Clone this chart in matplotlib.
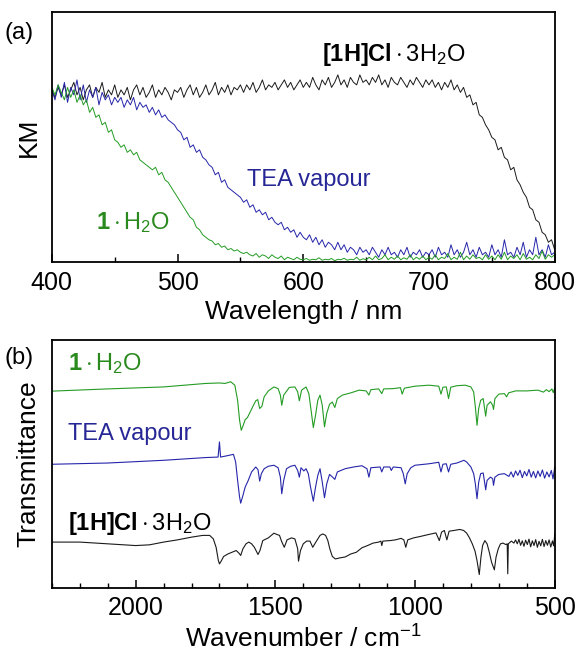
import matplotlib
matplotlib.use("Agg")
import matplotlib.pyplot as plt
import numpy as np
from matplotlib.ticker import MultipleLocator

plt.rcParams['font.family'] = ['Liberation Sans', 'DejaVu Sans']
plt.rcParams['mathtext.fontset'] = 'custom'
plt.rcParams['mathtext.rm'] = 'Liberation Sans'
plt.rcParams['mathtext.bf'] = 'Liberation Sans:bold'
plt.rcParams['mathtext.it'] = 'Liberation Sans:italic'

# (a) diffuse reflectance (KM), every 2.5 nm
wavelength = np.arange(400, 800.1, 2.5)

km_hcl = [0.69, 0.66, 0.70, 0.67, 0.71, 0.66, 0.69, 0.72, 0.67, 0.70, 0.65, 0.69, 0.71, 0.66, 0.70, 0.68, 0.72, 0.66, 0.69, 0.67, 0.71,
          0.66, 0.69, 0.67, 0.70, 0.65, 0.69, 0.71, 0.67, 0.70, 0.66, 0.68, 0.71, 0.66, 0.69, 0.67, 0.70, 0.68, 0.65, 0.69, 0.68,
          0.70, 0.66, 0.69, 0.71, 0.67, 0.70, 0.66, 0.68, 0.71, 0.67, 0.69, 0.72, 0.67, 0.70, 0.68, 0.71, 0.67, 0.70, 0.69, 0.71,
          0.68, 0.71, 0.69, 0.72, 0.68, 0.70, 0.73, 0.69, 0.71, 0.70, 0.72, 0.69, 0.71, 0.73, 0.70, 0.72, 0.69, 0.71, 0.73, 0.70,
          0.72, 0.70, 0.74, 0.71, 0.69, 0.73, 0.71, 0.74, 0.70, 0.72, 0.75, 0.71, 0.73, 0.70, 0.74, 0.72, 0.71, 0.75, 0.72, 0.73,
          0.71, 0.74, 0.72, 0.75, 0.71, 0.73, 0.70, 0.74, 0.72, 0.71, 0.74, 0.72, 0.70, 0.73, 0.71, 0.74, 0.72, 0.70, 0.73, 0.71,
          0.73, 0.70, 0.72, 0.69, 0.72, 0.70, 0.73, 0.69, 0.71, 0.68, 0.70, 0.66, 0.67, 0.63, 0.64, 0.59, 0.58, 0.55, 0.53, 0.50,
          0.49, 0.45, 0.46, 0.42, 0.41, 0.37, 0.38, 0.33, 0.31, 0.28, 0.26, 0.22, 0.21, 0.17, 0.16, 0.12, 0.11, 0.08, 0.09, 0.05]

km_tea = [0.69, 0.65, 0.71, 0.66, 0.72, 0.64, 0.70, 0.67, 0.73, 0.65, 0.71, 0.64, 0.69, 0.66, 0.70, 0.63, 0.68, 0.65, 0.67, 0.63, 0.66,
          0.64, 0.66, 0.62, 0.65, 0.63, 0.66, 0.61, 0.64, 0.62, 0.63, 0.60, 0.62, 0.59, 0.61, 0.58, 0.59, 0.57, 0.56, 0.55, 0.53,
          0.52, 0.49, 0.50, 0.46, 0.47, 0.44, 0.45, 0.42, 0.41, 0.39, 0.38, 0.35, 0.36, 0.32, 0.33, 0.30, 0.29, 0.28, 0.27, 0.26,
          0.24, 0.25, 0.22, 0.23, 0.20, 0.21, 0.19, 0.20, 0.17, 0.18, 0.16, 0.15, 0.16, 0.13, 0.14, 0.12, 0.13, 0.10, 0.12, 0.10,
          0.09, 0.11, 0.08, 0.10, 0.07, 0.09, 0.06, 0.08, 0.07, 0.05, 0.08, 0.05, 0.07, 0.04, 0.06, 0.05, 0.03, 0.06, 0.04, 0.05,
          0.03, 0.06, 0.04, 0.02, 0.05, 0.03, 0.06, 0.03, 0.04, 0.02, 0.05, 0.03, 0.06, 0.02, 0.04, 0.03, 0.05, 0.02, 0.04, 0.03,
          0.05, 0.02, 0.06, 0.03, 0.04, 0.02, 0.07, 0.03, 0.05, 0.02, 0.04, 0.08, 0.03, 0.05, 0.02, 0.06, 0.03, 0.04, 0.02, 0.07,
          0.03, 0.05, 0.02, 0.09, 0.03, 0.04, 0.02, 0.06, 0.03, 0.08, 0.02, 0.05, 0.03, 0.10, 0.03, 0.05, 0.02, 0.07, 0.03, 0.04]

km_h2o = [0.70, 0.67, 0.71, 0.68, 0.65, 0.70, 0.66, 0.69, 0.64, 0.67, 0.63, 0.65, 0.60, 0.62, 0.58, 0.59, 0.55, 0.56, 0.52, 0.53, 0.49,
          0.48, 0.46, 0.47, 0.44, 0.45, 0.43, 0.44, 0.41, 0.40, 0.39, 0.38, 0.37, 0.38, 0.35, 0.36, 0.33, 0.32, 0.30, 0.28, 0.26,
          0.24, 0.22, 0.20, 0.18, 0.17, 0.14, 0.13, 0.11, 0.10, 0.09, 0.085, 0.07, 0.075, 0.06, 0.065, 0.05, 0.055, 0.045, 0.05, 0.04,
          0.035, 0.04, 0.03, 0.025, 0.035, 0.02, 0.03, 0.025, 0.015, 0.03, 0.02, 0.015, 0.025, 0.01, 0.02, 0.015, 0.01, 0.02, 0.012, 0.01,
          0.015, 0.008, 0.012, 0.01, 0.018, 0.008, 0.012, 0.01, 0.015, 0.006, 0.012, 0.01, 0.016, 0.008, 0.012, 0.01, 0.02, 0.008, 0.014, 0.01,
          0.02, 0.01, 0.025, 0.01, 0.015, 0.03, 0.01, 0.02, 0.012, 0.025, 0.01, 0.018, 0.012, 0.03, 0.01, 0.02, 0.012, 0.025, 0.01, 0.02,
          0.012, 0.03, 0.01, 0.02, 0.015, 0.035, 0.01, 0.02, 0.012, 0.04, 0.01, 0.025, 0.012, 0.03, 0.015, 0.02, 0.01, 0.03, 0.012, 0.025,
          0.01, 0.03, 0.012, 0.04, 0.01, 0.025, 0.015, 0.03, 0.01, 0.035, 0.012, 0.02, 0.01, 0.03, 0.015, 0.045, 0.012, 0.03, 0.02, 0.03]

# (b) IR spectra, offset traces (fraction of axis height)
wn_h2o = [2300, 2100, 1900, 1750, 1700, 1680, 1660, 1645, 1635, 1628,
          1622, 1615, 1608, 1600, 1590, 1580, 1570, 1563, 1556, 1548,
          1540, 1525, 1505, 1490, 1482, 1477, 1470, 1450, 1430, 1420,
          1414, 1406, 1390, 1380, 1372, 1364, 1356, 1348, 1340, 1332,
          1324, 1316, 1306, 1296, 1287, 1278, 1260, 1230, 1200, 1175,
          1165, 1158, 1130, 1119, 1112, 1080, 1052, 1046, 1038, 1000,
          950, 915, 907, 900, 888, 880, 872, 850, 820, 800,
          790, 784, 778, 772, 765, 756, 750, 747, 742, 730,
          722, 719, 714, 700, 680, 672, 665, 640, 600, 560,
          540, 530, 520, 510, 505, 500]
tr_h2o = [0.794, 0.803, 0.811, 0.825, 0.827, 0.825, 0.832, 0.818, 0.757, 0.677,
          0.636, 0.656, 0.679, 0.687, 0.710, 0.733, 0.755, 0.760, 0.724, 0.733,
          0.771, 0.795, 0.811, 0.804, 0.778, 0.737, 0.778, 0.809, 0.811, 0.791,
          0.755, 0.798, 0.811, 0.784, 0.717, 0.647, 0.697, 0.757, 0.778, 0.737,
          0.650, 0.704, 0.741, 0.750, 0.728, 0.764, 0.778, 0.787, 0.798, 0.795,
          0.778, 0.800, 0.803, 0.784, 0.803, 0.804, 0.808, 0.782, 0.806, 0.814,
          0.818, 0.814, 0.782, 0.810, 0.811, 0.764, 0.810, 0.816, 0.818, 0.811,
          0.791, 0.730, 0.656, 0.724, 0.757, 0.764, 0.717, 0.693, 0.737, 0.751,
          0.737, 0.720, 0.764, 0.782, 0.784, 0.771, 0.787, 0.795, 0.795, 0.798,
          0.790, 0.800, 0.792, 0.803, 0.788, 0.806]

wn_tea = [2300, 2100, 1900, 1750, 1705, 1700, 1696, 1670, 1650, 1642,
          1635, 1628, 1624, 1616, 1608, 1598, 1585, 1570, 1562, 1556,
          1550, 1540, 1525, 1505, 1490, 1482, 1477, 1470, 1460, 1445,
          1430, 1420, 1414, 1408, 1398, 1390, 1382, 1374, 1364, 1356,
          1348, 1340, 1332, 1324, 1316, 1306, 1295, 1287, 1278, 1250,
          1220, 1190, 1172, 1165, 1158, 1125, 1119, 1112, 1090, 1085,
          1078, 1050, 1042, 1035, 1028, 1015, 1000, 950, 915, 907,
          900, 888, 880, 872, 850, 825, 815, 800, 790, 784,
          778, 772, 765, 756, 750, 747, 742, 730, 722, 719,
          714, 700, 680, 664, 656, 648, 640, 632, 624, 616,
          608, 600, 592, 584, 576, 568, 560, 552, 544, 536,
          528, 520, 512, 506, 502, 500]
tr_tea = [0.499, 0.504, 0.515, 0.526, 0.528, 0.589, 0.528, 0.534, 0.539, 0.508,
          0.434, 0.367, 0.342, 0.373, 0.407, 0.431, 0.468, 0.488, 0.477, 0.431,
          0.461, 0.481, 0.491, 0.495, 0.485, 0.447, 0.380, 0.434, 0.481, 0.491,
          0.495, 0.474, 0.447, 0.485, 0.472, 0.481, 0.461, 0.407, 0.350, 0.407,
          0.454, 0.481, 0.427, 0.364, 0.420, 0.458, 0.447, 0.438, 0.468, 0.481,
          0.488, 0.493, 0.481, 0.447, 0.485, 0.488, 0.468, 0.488, 0.488, 0.474,
          0.488, 0.485, 0.461, 0.420, 0.461, 0.485, 0.495, 0.501, 0.507, 0.468,
          0.499, 0.501, 0.468, 0.499, 0.504, 0.515, 0.508, 0.488, 0.461, 0.420,
          0.360, 0.427, 0.461, 0.464, 0.420, 0.396, 0.434, 0.447, 0.441, 0.414,
          0.447, 0.458, 0.461, 0.450, 0.468, 0.447, 0.472, 0.454, 0.475, 0.445,
          0.470, 0.452, 0.478, 0.447, 0.470, 0.444, 0.472, 0.450, 0.476, 0.443,
          0.468, 0.448, 0.474, 0.440, 0.470, 0.488]

wn_hcl = [2300, 2200, 2100, 2000, 1950, 1900, 1850, 1800, 1760, 1735,
          1722, 1712, 1704, 1700, 1694, 1685, 1670, 1655, 1640, 1630,
          1624, 1616, 1605, 1595, 1585, 1575, 1562, 1555, 1545, 1525,
          1505, 1495, 1485, 1478, 1468, 1458, 1442, 1430, 1420, 1417,
          1410, 1400, 1388, 1376, 1366, 1355, 1340, 1330, 1320, 1312,
          1305, 1296, 1285, 1270, 1250, 1230, 1210, 1190, 1170, 1150,
          1130, 1122, 1119, 1115, 1090, 1070, 1050, 1040, 1033, 1026,
          1005, 980, 950, 925, 913, 905, 895, 886, 878, 860,
          840, 826, 815, 805, 795, 785, 778, 770, 764, 758,
          750, 742, 734, 726, 716, 710, 702, 694, 685, 675,
          670, 668, 666, 655, 646, 640, 634, 628, 622, 616,
          610, 604, 598, 592, 586, 580, 574, 568, 562, 556,
          550, 544, 538, 532, 526, 520, 514, 508, 504, 501, 500]
tr_hcl = [0.185, 0.185, 0.178, 0.171, 0.174, 0.185, 0.194, 0.205, 0.212, 0.212,
          0.198, 0.164, 0.111, 0.097, 0.108, 0.127, 0.137, 0.144, 0.151, 0.140,
          0.131, 0.158, 0.178, 0.185, 0.178, 0.164, 0.135, 0.151, 0.191, 0.202,
          0.221, 0.216, 0.212, 0.189, 0.164, 0.194, 0.202, 0.198, 0.158, 0.108,
          0.151, 0.178, 0.189, 0.189, 0.164, 0.185, 0.212, 0.218, 0.212, 0.191,
          0.158, 0.127, 0.117, 0.121, 0.125, 0.137, 0.144, 0.162, 0.171, 0.181,
          0.185, 0.189, 0.171, 0.189, 0.191, 0.194, 0.200, 0.194, 0.164, 0.194,
          0.202, 0.208, 0.216, 0.222, 0.191, 0.225, 0.232, 0.194, 0.229, 0.232,
          0.236, 0.232, 0.221, 0.202, 0.178, 0.148, 0.110, 0.054, 0.124, 0.171,
          0.191, 0.178, 0.144, 0.104, 0.073, 0.124, 0.158, 0.178, 0.181, 0.175,
          0.178, 0.057, 0.178, 0.189, 0.181, 0.194, 0.178, 0.196, 0.172, 0.190,
          0.168, 0.193, 0.175, 0.197, 0.166, 0.190, 0.171, 0.195, 0.164, 0.188,
          0.170, 0.196, 0.167, 0.191, 0.172, 0.194, 0.165, 0.190, 0.170, 0.200, 0.218]

green = '#249c24'
blue = '#2626aa'
black = '#1a1a1a'

fig = plt.figure(figsize=(5.76, 6.54), dpi=100)
ax1 = fig.add_axes([0.090, 0.599, 0.873, 0.382])
ax2 = fig.add_axes([0.090, 0.101, 0.873, 0.379])

ax1.plot(wavelength, km_hcl, color=black, lw=0.7)
ax1.plot(wavelength, km_tea, color=blue, lw=0.7)
ax1.plot(wavelength, km_h2o, color=green, lw=0.7)
ax1.set_xlim(400, 800)
ax1.set_ylim(0, 1)
ax1.xaxis.set_major_locator(MultipleLocator(100))
ax1.xaxis.set_minor_locator(MultipleLocator(50))
ax1.set_xlabel('Wavelength / nm', fontsize=19, labelpad=4)
ax1.set_ylabel('KM', fontsize=19, labelpad=8)

ax1.text(0.538, 0.833, r'$\mathbf{[1H]Cl}\cdot\mathrm{3H_2O}$', transform=ax1.transAxes,
         fontsize=17, color='black', ha='left', va='center')
ax1.text(0.389, 0.331, 'TEA vapour', transform=ax1.transAxes,
         fontsize=17, color='#262696', ha='left', va='center')
ax1.text(0.088, 0.157, r'$\mathbf{1}\cdot\mathrm{H_2O}$', transform=ax1.transAxes,
         fontsize=17, color='#2a8a1e', ha='left', va='center')
ax1.text(-0.094, 0.917, '(a)', transform=ax1.transAxes, fontsize=17, ha='left', va='center')

ax2.plot(wn_h2o, tr_h2o, color=green, lw=0.8)
ax2.plot(wn_tea, tr_tea, color=blue, lw=0.8)
ax2.plot(wn_hcl, tr_hcl, color=black, lw=0.8)
ax2.set_xlim(2300, 500)
ax2.set_ylim(0, 1)
ax2.xaxis.set_major_locator(MultipleLocator(500))
ax2.xaxis.set_minor_locator(MultipleLocator(100))
ax2.set_xlabel('Wavenumber / cm$^{-1}$', fontsize=19, labelpad=4)
ax2.set_ylabel('Transmittance', fontsize=19, labelpad=8)

ax2.text(0.033, 0.906, r'$\mathbf{1}\cdot\mathrm{H_2O}$', transform=ax2.transAxes,
         fontsize=17, color='#2a8a1e', ha='left', va='center')
ax2.text(0.033, 0.623, 'TEA vapour', transform=ax2.transAxes,
         fontsize=17, color='#262696', ha='left', va='center')
ax2.text(0.033, 0.261, r'$\mathbf{[1H]Cl}\cdot\mathrm{3H_2O}$', transform=ax2.transAxes,
         fontsize=17, color='black', ha='left', va='center')
ax2.text(-0.094, 0.926, '(b)', transform=ax2.transAxes, fontsize=17, ha='left', va='center')

for ax in (ax1, ax2):
    ax.tick_params(axis='x', which='major', direction='in', length=6, width=1.1,
                   labelsize=18, pad=6)
    ax.tick_params(axis='x', which='minor', direction='in', length=3.5, width=1)
    ax.tick_params(axis='y', left=False, labelleft=False)
    for s in ax.spines.values():
        s.set_linewidth(1.3)

fig.savefig('out.png', dpi=100)
